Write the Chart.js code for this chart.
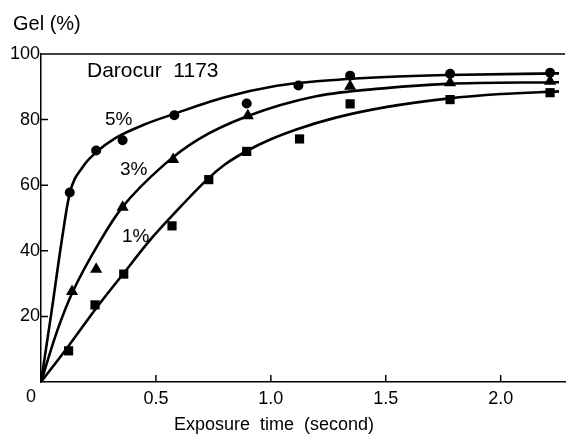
<!DOCTYPE html>
<html>
<head>
<meta charset="utf-8">
<script src="https://cdn.jsdelivr.net/npm/chart.js@4.4.1/dist/chart.umd.min.js"></script>
<style>
  html, body { margin: 0; padding: 0; background: #fff; }
  #wrap { width: 572px; height: 435px; }
</style>
</head>
<body>
<div id="wrap"><canvas id="gelChart" width="572" height="435"></canvas></div>
<script>
// measured points (exposure time in s, gel %)
var x5 = [0.125, 0.24, 0.355, 0.58, 0.895, 1.12, 1.345, 1.78, 2.215];
var y5 = [57.8, 70.6, 73.7, 81.3, 84.9, 90.4, 93.4, 94.0, 94.3];

var x3 = [0.135, 0.24, 0.355, 0.575, 0.9, 1.345, 1.78, 2.215];
var y3 = [27.6, 34.4, 53.3, 67.8, 81.2, 90.2, 91.2, 91.7];

var x1 = [0.12, 0.235, 0.36, 0.57, 0.73, 0.895, 1.125, 1.345, 1.78, 2.215];
var y1 = [9.5, 23.5, 32.9, 47.6, 61.7, 70.3, 74.1, 84.8, 86.1, 88.2];

// fitted curves
var c5x = [0, 0.045, 0.09, 0.125, 0.183, 0.24, 0.325, 0.45, 0.582, 0.8, 1.026, 1.2, 1.5, 1.767, 2.254];
var c5y = [0, 21, 43, 57.5, 65.7, 70, 74.4, 78.5, 81.8, 86.8, 90.3, 91.7, 93, 93.6, 94.1];

var c3x = [0, 0.07, 0.138, 0.261, 0.354, 0.54, 0.683, 0.897, 1.197, 1.5, 1.767, 2.254];
var c3y = [0, 15.5, 27.5, 43.4, 53.3, 66.5, 73.9, 81, 87.1, 89.6, 90.9, 91.4];

var c1x = [0, 0.12, 0.24, 0.358, 0.476, 0.568, 0.727, 0.8, 0.897, 1.0, 1.111, 1.283, 1.5, 1.767, 2.0, 2.254];
var c1y = [0, 11, 22.5, 33, 43.4, 50.5, 62, 66.3, 70.5, 74.0, 77.0, 80.6, 83.8, 86.4, 87.8, 88.6];

var xTicks = [0.5, 1.0, 1.5, 2.0];
var yTicks = [20, 40, 60, 80, 100];

function pts(xs, ys) {
  return xs.map(function (x, i) { return { x: x, y: ys[i] }; });
}

var fontFam = '"Liberation Sans", Arial, Helvetica, sans-serif';

function curve(xs, ys) {
  return {
    type: 'line',
    data: pts(xs, ys),
    borderColor: '#000',
    borderWidth: 2.6,
    pointRadius: 0,
    cubicInterpolationMode: 'monotone',
    fill: false
  };
}

function marks(xs, ys, style, r) {
  return {
    type: 'scatter',
    data: pts(xs, ys),
    pointStyle: style,
    pointRadius: r,
    backgroundColor: '#000',
    borderColor: '#000',
    borderWidth: 0
  };
}

// texts, inward ticks and top frame line
var decor = {
  id: 'decor',
  afterDraw: function (chart) {
    var ctx = chart.ctx;
    var a = chart.chartArea;
    var xs = chart.scales.x, ys = chart.scales.y;
    ctx.save();
    ctx.strokeStyle = '#000';
    ctx.lineWidth = 1.5;
    ctx.beginPath();
    ctx.moveTo(a.left, a.top);
    ctx.lineTo(a.right, a.top);
    yTicks.forEach(function (v) {
      var py = ys.getPixelForValue(v);
      ctx.moveTo(a.left, py);
      ctx.lineTo(a.left + 7, py);
    });
    xTicks.forEach(function (v) {
      var px = xs.getPixelForValue(v);
      ctx.moveTo(px, a.bottom);
      ctx.lineTo(px, a.bottom - 7);
    });
    ctx.stroke();

    ctx.fillStyle = '#000';
    ctx.textBaseline = 'alphabetic';
    ctx.textAlign = 'left';
    ctx.font = '20px ' + fontFam;
    ctx.fillText('Gel (%)', 13, 30);
    ctx.font = '21px ' + fontFam;
    ctx.fillText('Darocur  1173', 87, 77);
    ctx.font = '19px ' + fontFam;
    ctx.fillText('5%', 105, 125);
    ctx.fillText('3%', 120, 175);
    ctx.fillText('1%', 122, 242);
    ctx.font = '18px ' + fontFam;
    ctx.fillText('0', 26, 402);
    ctx.textAlign = 'center';
    ctx.fillText('Exposure  time  (second)', 274, 430);
    ctx.restore();
  }
};

new Chart(document.getElementById('gelChart'), {
  data: {
    datasets: [
      curve(c5x, c5y),
      curve(c3x, c3y),
      curve(c1x, c1y),
      marks(x5, y5, 'circle', 5),
      marks(x3, y3, 'triangle', 7),
      marks(x1, y1, 'rect', 6.5)
    ]
  },
  options: {
    responsive: false,
    animation: false,
    layout: { padding: { top: 54, right: 0, left: 0, bottom: 0 } },
    plugins: {
      legend: { display: false },
      tooltip: { enabled: false }
    },
    scales: {
      x: {
        type: 'linear',
        min: 0,
        max: 2.28,
        grid: { display: false, drawTicks: false },
        border: { display: true, color: '#000', width: 1.5 },
        afterBuildTicks: function (s) {
          s.ticks = xTicks.map(function (v) { return { value: v }; });
        },
        afterFit: function (s) { s.height = 53; },
        ticks: {
          padding: 6,
          maxRotation: 0,
          color: '#000',
          font: { family: fontFam, size: 18 },
          callback: function (v) { return v.toFixed(1); }
        }
      },
      y: {
        type: 'linear',
        min: 0,
        max: 100,
        grid: { display: false, drawTicks: false },
        border: { display: true, color: '#000', width: 1.5 },
        afterBuildTicks: function (s) {
          s.ticks = yTicks.map(function (v) { return { value: v }; });
        },
        afterFit: function (s) { s.width = 41; },
        ticks: {
          padding: 1,
          color: '#000',
          font: { family: fontFam, size: 18 }
        }
      }
    }
  },
  plugins: [decor]
});
</script>
</body>
</html>
